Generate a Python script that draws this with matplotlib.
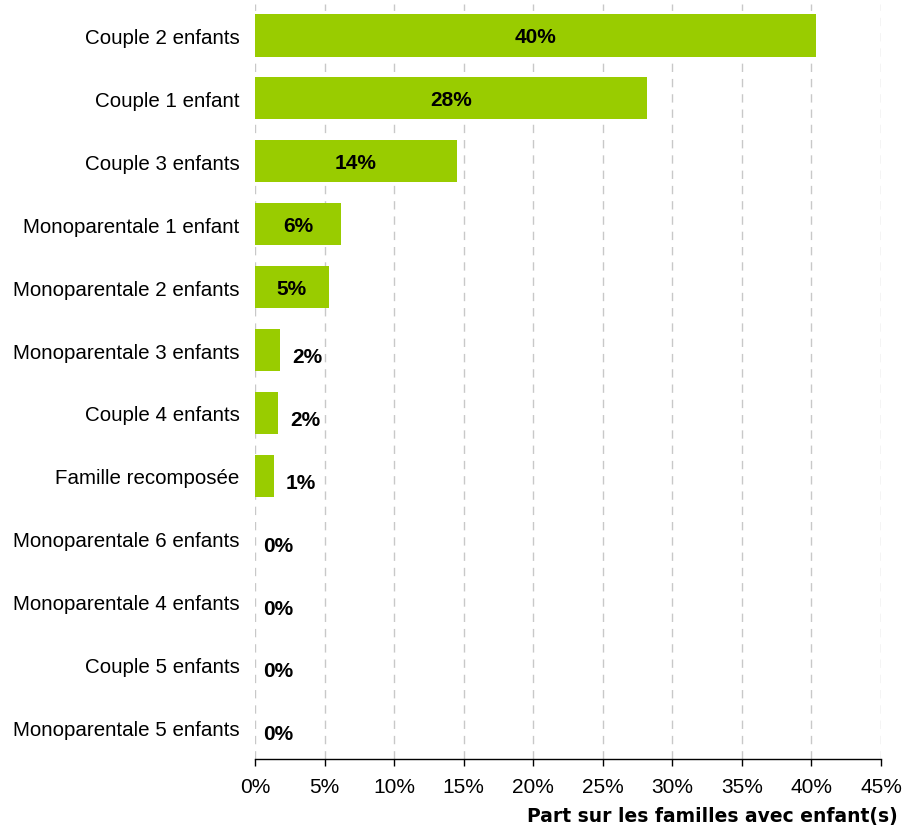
import matplotlib.pyplot as plt

# Données
categories = [
    "Couple 2 enfants", "Couple 1 enfant", "Couple 3 enfants",
    "Monoparentale 1 enfant", "Monoparentale 2 enfants", "Monoparentale 3 enfants",
    "Couple 4 enfants", "Famille recomposée", "Monoparentale 6 enfants",
    "Monoparentale 4 enfants", "Couple 5 enfants", "Monoparentale 5 enfants",
]
values = [40.35, 28.2, 14.5, 6.2, 5.3, 1.8, 1.65, 1.35, 0.0, 0.0, 0.0, 0.0]
xticks = [0, 5, 10, 15, 20, 25, 30, 35, 40, 45]

plt.rcParams['font.family'] = ['Liberation Sans', 'DejaVu Sans']

fig = plt.figure(figsize=(9.02, 8.28), dpi=100)
ax = fig.add_axes([0.2827, 0.0821, 0.6940, 0.9119])

y = list(range(len(categories)))
ax.barh(y, values, height=0.67, color='#99CC00', zorder=3)

ax.set_ylim(len(categories) - 0.5, -0.5)
ax.set_xlim(0, 45)
ax.set_yticks(y)
ax.set_yticklabels(categories, fontsize=14.8)
ax.set_xticks(xticks)
ax.set_xticklabels([f"{t}%" for t in xticks], fontsize=15)

ax.tick_params(axis='y', length=0, pad=11)
ax.tick_params(axis='x', direction='out', length=5, width=1, color='black', pad=8)

for s in ['top', 'right', 'left']:
    ax.spines[s].set_visible(False)
ax.spines['bottom'].set_color('black')
ax.spines['bottom'].set_linewidth(1)

ax.grid(axis='x', linestyle=(0, (6, 5)), color='#c8c8c8', linewidth=1, zorder=0)
ax.set_axisbelow(True)

# Etiquettes de valeurs
px_per_unit = (0.6940 * 902) / 45
for i, v in enumerate(values):
    txt = f"{round(v):.0f}%"
    if v >= 5:
        ax.text(v / 2, i + 0.02, txt, ha='center', va='center',
                fontsize=15, fontweight='bold', color='black', zorder=4)
    else:
        off = 8 / px_per_unit if v == 0 else 12 / px_per_unit
        ax.text(v + off, i + 0.1, txt, ha='left', va='center',
                fontsize=15, fontweight='bold', color='black', zorder=4)

fig.text(0.995, 0.002, "Part sur les familles avec enfant(s)", ha='right', va='bottom',
         fontsize=13.5, fontweight='bold', family=['DejaVu Sans'])

fig.savefig('out.png', dpi=100, facecolor='white')
